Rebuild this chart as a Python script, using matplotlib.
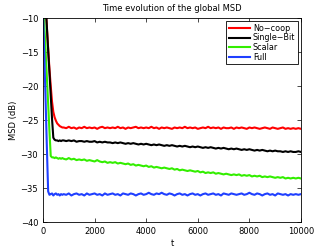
import matplotlib
matplotlib.use('agg')
import matplotlib.pyplot as plt
import numpy as np

# iterations: dense head for the transient, then every 100
t_head = [0, 50, 100, 150, 200, 250, 300, 350, 400, 450, 500, 550, 600, 650, 700, 750]
t = np.concatenate([t_head, np.arange(800, 10001, 100)])

nocoop = [-1, -4, -8, -11.3, -14.5, -17.5, -20, -22.3, -23.8, -24.6, -25.1, -25.5, -25.7, -25.9, -26.0, -26.1,
          -26.1, -26.2, -26.0, -26.2, -26.1, -26.3, -26.1, -26.2, -26.0, -26.2,
          -26.1, -26.2, -26.1, -26.3, -26.1, -26.0, -26.2, -26.1, -26.2, -26.1,
          -26.2, -26.0, -26.2, -26.1, -26.3, -26.1, -26.2, -26.1, -26.0, -26.2,
          -26.1, -26.2, -26.1, -26.2, -26.0, -26.2, -26.1, -26.3, -26.1, -26.2,
          -26.1, -26.2, -26.3, -26.1, -26.2, -26.1, -26.2, -26.0, -26.2, -26.1,
          -26.2, -26.1, -26.3, -26.2, -26.1, -26.2, -26.0, -26.2, -26.1, -26.2,
          -26.1, -26.3, -26.1, -26.2, -26.2, -26.1, -26.3, -26.1, -26.2, -26.1,
          -26.2, -26.3, -26.1, -26.2, -26.1, -26.2, -26.3, -26.2, -26.1, -26.2,
          -26.3, -26.1, -26.2, -26.3, -26.2, -26.1, -26.3, -26.2, -26.3, -26.2,
          -26.3, -26.2, -26.3]

single_bit = [-1, -4.5, -8, -11.3, -14.7, -18, -21.4, -24.8, -27.6, -27.9, -28.0, -28.0, -28.1, -28.0, -28.1, -28.0,
              -28.0, -28.1, -28.0, -28.1, -28.0, -28.2, -28.1, -28.1, -28.2, -28.1,
              -28.2, -28.2, -28.1, -28.3, -28.2, -28.3, -28.2, -28.3, -28.3, -28.4,
              -28.3, -28.4, -28.3, -28.4, -28.5, -28.4, -28.5, -28.4, -28.5, -28.6,
              -28.5, -28.6, -28.5, -28.6, -28.7, -28.6, -28.7, -28.6, -28.7, -28.8,
              -28.7, -28.8, -28.7, -28.8, -28.9, -28.8, -28.9, -28.8, -28.9, -29.0,
              -28.9, -29.0, -28.9, -29.0, -29.1, -29.0, -29.1, -29.0, -29.1, -29.2,
              -29.1, -29.2, -29.1, -29.2, -29.3, -29.2, -29.3, -29.2, -29.3, -29.4,
              -29.3, -29.4, -29.3, -29.4, -29.5, -29.4, -29.5, -29.4, -29.5, -29.6,
              -29.5, -29.6, -29.5, -29.6, -29.6, -29.7, -29.6, -29.7, -29.6, -29.7,
              -29.7, -29.6, -29.7]

scalar = [-7, -10.8, -14.7, -18.7, -22.6, -26.6, -30.3, -30.5, -30.5, -30.6, -30.5, -30.6, -30.7, -30.6, -30.7, -30.6,
          -30.7, -30.8, -30.6, -30.8, -30.7, -30.9, -30.8, -30.9, -30.8, -31.0,
          -30.9, -31.0, -31.1, -30.9, -31.1, -31.2, -31.1, -31.3, -31.2, -31.3,
          -31.2, -31.4, -31.3, -31.4, -31.5, -31.4, -31.6, -31.5, -31.7, -31.6,
          -31.7, -31.8, -31.7, -31.9, -31.8, -32.0, -31.9, -32.0, -32.1, -32.0,
          -32.1, -32.2, -32.1, -32.3, -32.2, -32.4, -32.3, -32.4, -32.5, -32.4,
          -32.5, -32.6, -32.5, -32.7, -32.6, -32.8, -32.7, -32.8, -32.7, -32.9,
          -32.8, -32.9, -33.0, -32.9, -33.0, -33.1, -33.0, -33.1, -33.0, -33.2,
          -33.1, -33.2, -33.1, -33.3, -33.2, -33.3, -33.2, -33.4, -33.3, -33.4,
          -33.3, -33.4, -33.5, -33.4, -33.5, -33.4, -33.6, -33.5, -33.6, -33.5,
          -33.6, -33.5, -33.6]

full = [-9, -15.5, -22, -29, -35.5, -36.0, -35.9, -35.8, -36.1, -35.9, -35.8, -36.0, -35.9, -36.1, -35.9, -36.0,
        -35.9, -36.0, -35.8, -36.1, -35.9, -35.8, -36.0, -35.9, -36.1, -35.8,
        -36.0, -35.9, -35.8, -36.0, -35.9, -36.1, -35.8, -36.0, -35.9, -35.8,
        -36.0, -35.9, -36.1, -35.8, -35.9, -36.0, -35.8, -35.9, -36.1, -35.9,
        -35.8, -36.0, -35.9, -35.7, -35.9, -36.0, -35.8, -35.9, -35.7, -35.9,
        -36.0, -35.8, -35.9, -36.1, -35.9, -35.8, -36.0, -35.9, -36.1, -35.9,
        -35.8, -36.0, -35.9, -36.1, -35.9, -35.8, -36.0, -35.9, -35.8, -36.0,
        -35.9, -36.1, -35.8, -35.9, -36.0, -35.8, -35.9, -36.0, -35.9, -35.8,
        -36.0, -35.9, -35.7, -35.9, -36.0, -35.8, -35.9, -36.1, -35.9, -35.8,
        -36.0, -35.9, -36.1, -35.8, -35.9, -36.0, -35.9, -36.1, -35.9, -36.0,
        -35.9, -36.0, -35.9]

labels = ['No\u2212coop', 'Single\u2212Bit', 'Scalar', 'Full']
colors = ['#ff0000', '#000000', '#33ee00', '#1f3fff']

fig = plt.figure(figsize=(3.32, 2.5), dpi=100)
ax = fig.add_axes([0.1295, 0.112, 0.777, 0.816])

for y, lab, c in zip([nocoop, single_bit, scalar, full], labels, colors):
    ax.plot(t, y, color=c, linewidth=1.5, label=lab)

ax.set_xlim(0, 10000)
ax.set_ylim(-40, -10)
ax.set_xticks(range(0, 10001, 2000))
ax.set_yticks(range(-40, -9, 5))
ax.set_yticklabels([str(v).replace('-', '\u2212') for v in range(-40, -9, 5)])
ax.tick_params(direction='in', top=True, right=True, labelsize=6, length=3, width=0.5)
for s in ax.spines.values():
    s.set_linewidth(0.6)

ax.set_xlabel('t', fontsize=6, labelpad=2)
ax.set_ylabel('MSD (dB)', fontsize=6, labelpad=2)
ax.set_title('Time evolution of the global MSD', fontsize=6, pad=5)

leg = ax.legend(loc='upper right', fontsize=5.8, fancybox=False, framealpha=1,
                edgecolor='black', handlelength=2.6, borderpad=0.3,
                labelspacing=0.1, handletextpad=0.4, borderaxespad=0.4)
leg.get_frame().set_linewidth(0.6)

plt.savefig('out.png', dpi=100)
